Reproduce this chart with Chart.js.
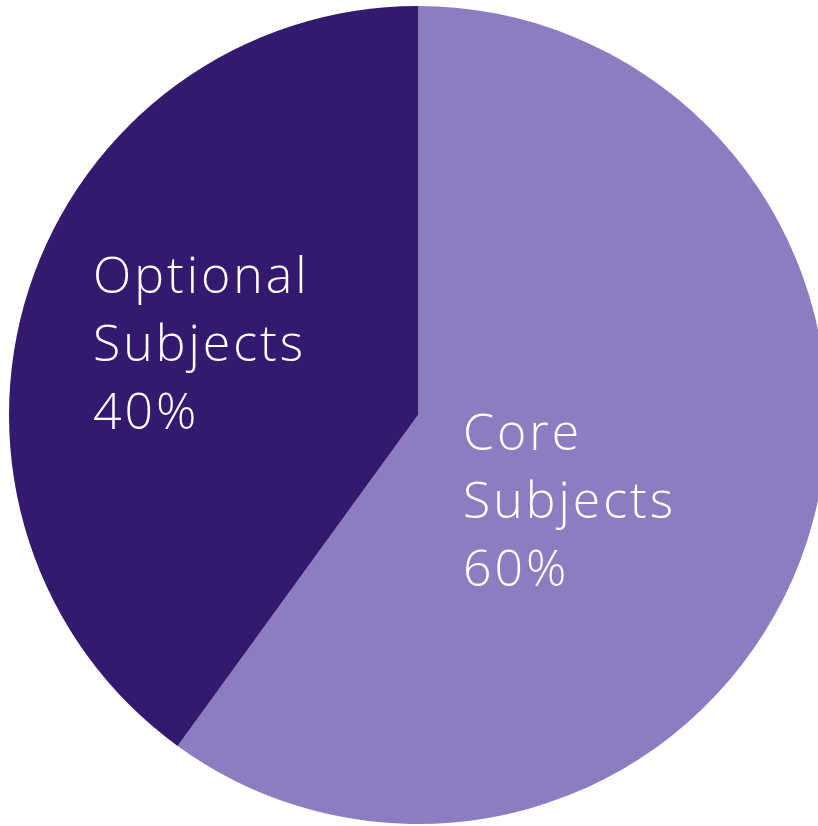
<!DOCTYPE html>
<html>
<head>
<meta charset="utf-8">
<script src="https://cdn.jsdelivr.net/npm/chart.js@4/dist/chart.umd.min.js"></script>
<style>
  html, body { margin: 0; padding: 0; background: #fff; overflow: hidden; }
  #wrap { position: relative; width: 818px; height: 826px; overflow: hidden; }
  #wrap canvas { position: absolute; left: 0; top: 0; }
</style>
</head>
<body>
<div id="wrap">
  <canvas id="pieChart" width="836" height="830" style="width:836px;height:830px"></canvas>
</div>
<script>
const labels = ["Core Subjects", "Optional Subjects"];
const values = [60, 40];
const colors = ["#8B7DBF", "#341A6F"];

// Label text blocks (offsets from pie centre)
const labelOffsets = [
    { dx: 45, dy: 35 },
    { dx: -325, dy: -122 }
];

const pieLabels = {
    id: "pieLabels",
    afterDatasetsDraw(chart) {
        const c = chart.ctx;
        const arc = chart.getDatasetMeta(0).data[0];
        c.save();
        c.fillStyle = "#ffffff";
        c.font = "300 50px 'Open Sans', Lato, sans-serif";
        c.letterSpacing = "3px";
        c.textAlign = "left";
        c.textBaseline = "alphabetic";
        labels.forEach((name, i) => {
            const words = name.split(" ");
            const lines = [words[0], words[1], values[i] + "%"];
            lines.forEach((line, j) => {
                c.fillText(line, arc.x + labelOffsets[i].dx, arc.y + labelOffsets[i].dy + j * 68);
            });
        });
        c.restore();
    }
};

new Chart(document.getElementById("pieChart"), {
    type: "pie",
    data: {
        labels: labels,
        datasets: [{
            data: values,
            backgroundColor: colors,
            borderWidth: 0
        }]
    },
    options: {
        responsive: false,
        animation: false,
        layout: { padding: { top: 6, bottom: 6, left: 0, right: 0 } },
        plugins: {
            legend: { display: false },
            tooltip: { enabled: false }
        }
    },
    plugins: [pieLabels]
});
</script>
</body>
</html>
